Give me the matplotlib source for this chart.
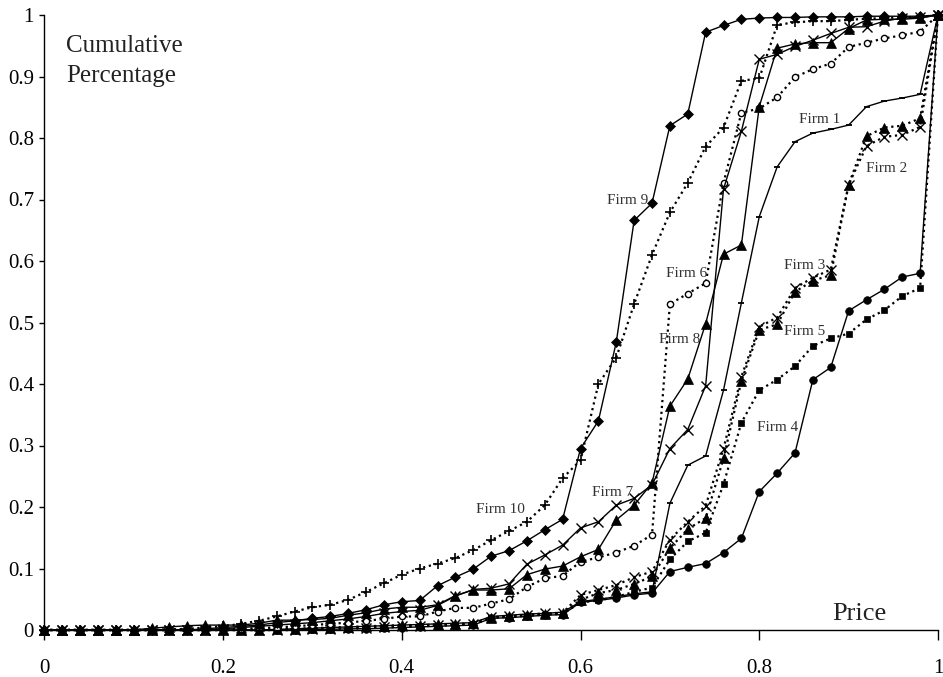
import numpy as np
import matplotlib
matplotlib.use("Agg")
import matplotlib.pyplot as plt

# price grid, one point every 0.02
price = [round(0.02 * i, 2) for i in range(51)]

z = [0.0]
firm1 = z * 13 + [0.001, 0.002, 0.003, 0.004, 0.005, 0.006, 0.007, 0.008, 0.009, 0.010, 0.011, 0.012,
                  0.022, 0.024, 0.026, 0.027, 0.029, 0.046, 0.050, 0.054, 0.059, 0.062,
                  0.206, 0.268, 0.283, 0.390, 0.532, 0.672, 0.753, 0.794, 0.808, 0.814, 0.821,
                  0.851, 0.860, 0.865, 0.871, 1.0]
firm2 = z * 15 + [0.001, 0.002, 0.003, 0.004, 0.005, 0.006, 0.007, 0.008, 0.009, 0.010,
                  0.021, 0.022, 0.025, 0.027, 0.028, 0.057, 0.065, 0.073, 0.086, 0.095,
                  0.147, 0.176, 0.202, 0.295, 0.412, 0.493, 0.508, 0.556, 0.573, 0.586,
                  0.724, 0.787, 0.802, 0.805, 0.818, 1.0]
firm3 = z * 13 + [0.001, 0.002, 0.003, 0.004, 0.005, 0.006, 0.007, 0.008, 0.008, 0.009, 0.010, 0.011,
                  0.020, 0.022, 0.024, 0.026, 0.027, 0.049, 0.060, 0.065, 0.075, 0.087,
                  0.133, 0.164, 0.182, 0.279, 0.405, 0.488, 0.497, 0.550, 0.568, 0.577,
                  0.724, 0.803, 0.817, 0.820, 0.832, 1.0]
firm4 = z * 15 + [0.001, 0.001, 0.002, 0.002, 0.003, 0.004, 0.005, 0.006, 0.007, 0.008,
                  0.019, 0.020, 0.022, 0.024, 0.025, 0.045, 0.048, 0.052, 0.057, 0.060,
                  0.095, 0.102, 0.108, 0.126, 0.149, 0.225, 0.255, 0.288, 0.407, 0.427,
                  0.519, 0.537, 0.554, 0.574, 0.580, 1.0]
firm5 = z * 15 + [0.001, 0.002, 0.002, 0.003, 0.004, 0.005, 0.006, 0.007, 0.008, 0.009,
                  0.020, 0.021, 0.023, 0.025, 0.026, 0.045, 0.048, 0.054, 0.062, 0.069,
                  0.115, 0.144, 0.158, 0.237, 0.337, 0.390, 0.407, 0.429, 0.462, 0.474,
                  0.482, 0.505, 0.520, 0.543, 0.556, 1.0]
firm6 = z * 10 + [0.001, 0.002, 0.003, 0.004, 0.006, 0.008, 0.010, 0.012, 0.015, 0.018,
                  0.022, 0.022, 0.030, 0.036, 0.036, 0.043, 0.050, 0.070, 0.084, 0.088,
                  0.111, 0.118, 0.126, 0.137, 0.155, 0.530, 0.547, 0.564, 0.727, 0.841,
                  0.848, 0.866, 0.899, 0.912, 0.921, 0.948, 0.955, 0.962, 0.967, 0.973, 1.0]
firm7 = z * 10 + [0.002, 0.004, 0.006, 0.008, 0.010, 0.012, 0.015, 0.018, 0.022, 0.027,
                  0.030, 0.032, 0.040, 0.055, 0.066, 0.068, 0.075, 0.107, 0.122, 0.138,
                  0.166, 0.176, 0.203, 0.214, 0.236, 0.295, 0.326, 0.397, 0.717, 0.811,
                  0.928, 0.936, 0.949, 0.959, 0.970, 0.980, 0.981, 0.990, 0.995, 0.996, 1.0]
firm8 = z * 6 + [0.003, 0.005, 0.007, 0.008, 0.008, 0.008, 0.011, 0.016, 0.016, 0.017,
                 0.019, 0.024, 0.028, 0.034, 0.037, 0.037, 0.041, 0.056, 0.065, 0.065,
                 0.067, 0.090, 0.099, 0.104, 0.119, 0.131, 0.179, 0.203, 0.239, 0.364,
                 0.408, 0.498, 0.611, 0.626, 0.851, 0.946, 0.953, 0.955, 0.955, 0.978,
                 0.992, 0.993, 0.993, 0.995, 1.0]
firm9 = z * 9 + [0.002, 0.004, 0.006, 0.008, 0.012, 0.015, 0.019, 0.022, 0.027, 0.033,
                 0.041, 0.046, 0.048, 0.072, 0.086, 0.099, 0.120, 0.129, 0.145, 0.163,
                 0.180, 0.295, 0.340, 0.468, 0.666, 0.694, 0.820, 0.839, 0.972, 0.983,
                 0.993, 0.995, 0.996, 0.996, 0.997, 0.997, 0.997, 0.998, 0.998, 0.998,
                 0.998, 1.0]
firm10 = z * 7 + [0.001, 0.002, 0.004, 0.006, 0.010, 0.015, 0.022, 0.030, 0.037, 0.041,
                  0.049, 0.062, 0.076, 0.090, 0.100, 0.108, 0.117, 0.130, 0.146, 0.161,
                  0.176, 0.203, 0.247, 0.276, 0.400, 0.443, 0.530, 0.610, 0.679, 0.727,
                  0.786, 0.817, 0.893, 0.897, 0.984, 0.988, 0.990, 0.990, 0.992, 0.994,
                  0.995, 0.996, 0.997, 1.0]

firm_names = ["Firm 1", "Firm 2", "Firm 3", "Firm 4", "Firm 5",
              "Firm 6", "Firm 7", "Firm 8", "Firm 9", "Firm 10"]
firm_series = [firm1, firm2, firm3, firm4, firm5, firm6, firm7, firm8, firm9, firm10]

# line / marker style for every firm
styles = [
    dict(ls="-", marker="_", ms=5, mew=1.3, mfc="k"),
    dict(ls=":", marker="x", ms=7, mew=1.0, mfc="k"),
    dict(ls=":", marker="^", ms=6.5, mew=0.5, mfc="k"),
    dict(ls="-", marker="o", ms=5.5, mew=0.5, mfc="k"),
    dict(ls=":", marker="s", ms=5, mew=0.5, mfc="k"),
    dict(ls=":", marker="o", ms=4.5, mew=1.0, mfc="white"),
    dict(ls="-", marker="x", ms=7, mew=1.0, mfc="k"),
    dict(ls="-", marker="^", ms=6.5, mew=0.5, mfc="k"),
    dict(ls="-", marker="D", ms=5, mew=0.5, mfc="k"),
    dict(ls=":", marker="+", ms=7, mew=1.2, mfc="k"),
]

# where the firm names sit (data coords)
label_pos = [(0.868, 0.830), (0.943, 0.750), (0.851, 0.592), (0.821, 0.330), (0.851, 0.486),
             (0.719, 0.579), (0.636, 0.223), (0.711, 0.473), (0.653, 0.698), (0.510, 0.196)]

plt.rcParams['font.family'] = ['Liberation Serif', 'DejaVu Serif']

fig = plt.figure(figsize=(9.43, 6.77), dpi=100)
ax = fig.add_axes([44.3 / 943, 47 / 677, (938 - 44.3) / 943, (630 - 15) / 677])

for y, st in zip(firm_series, styles):
    lw = 1.6 if st["ls"] == ":" else 1.0
    ax.plot(price, y, color="k", lw=lw, ls=st["ls"], marker=st["marker"],
            ms=st["ms"], mew=st["mew"], mfc=st["mfc"], mec="k", clip_on=False)

for name, (lx, ly) in zip(firm_names, label_pos):
    ax.text(lx, ly, name, fontsize=11, color="#333333", ha="center", va="center")

ax.set_xlim(0, 1)
ax.set_ylim(0, 1)
ax.set_xticks([0, 0.2, 0.4, 0.6, 0.8, 1])
ax.set_xticklabels(["0", "0.2", "0.4", "0.6", "0.8", "1"])
ax.set_yticks([i / 10 for i in range(11)])
ax.set_yticklabels(["0"] + ["0.%d" % i for i in range(1, 10)] + ["1"])
ax.tick_params(axis="x", direction="out", length=7, width=1, pad=14, labelsize=15)
ax.tick_params(axis="y", direction="out", length=3.5, width=1, pad=4, labelsize=15)
for s in ["top", "right"]:
    ax.spines[s].set_visible(False)
for s in ["left", "bottom"]:
    ax.spines[s].set_linewidth(1.0)

fig.text(66 / 943, 1 - 61 / 677, "Cumulative\nPercentage", fontsize=18, ha="left", va="center",
         linespacing=1.45, color="#222222")
fig.text(859 / 943, 1 - 614 / 677, "Price", fontsize=19, ha="center", va="center", color="#222222")

fig.savefig("out.png", dpi=100)
